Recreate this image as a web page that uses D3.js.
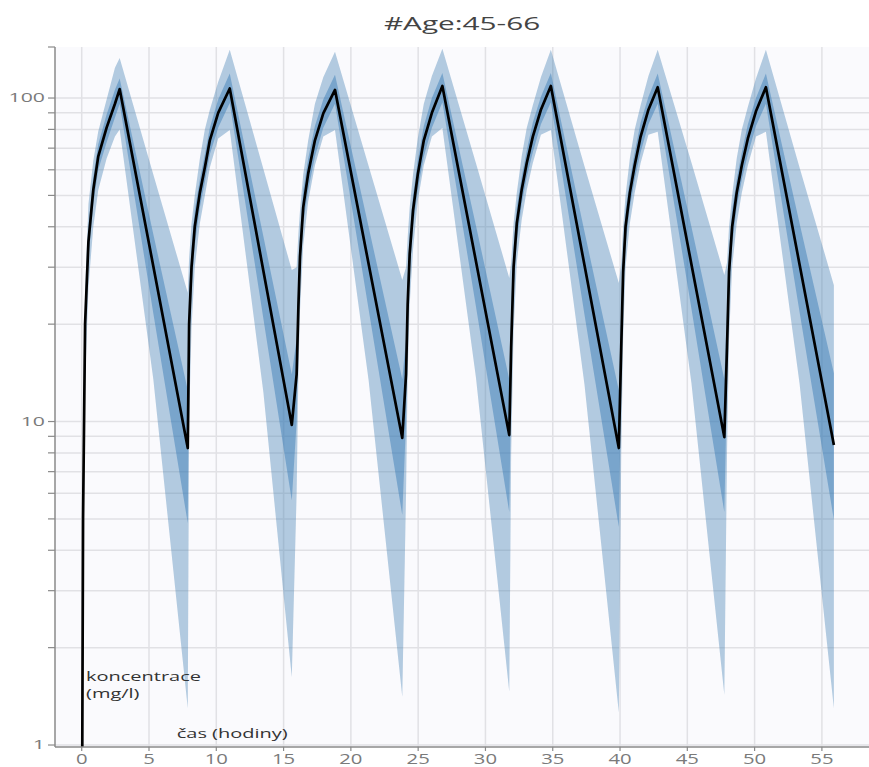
<!DOCTYPE html>
<html>
<head>
<meta charset="utf-8">
<script src="https://cdn.jsdelivr.net/npm/d3@7"></script>
<style>
  body { margin: 0; background: #fff; }
  text { font-family: "Open Sans", sans-serif; }
</style>
</head>
<body>
<svg id="chart" width="869" height="767"></svg>
<script>
// time (h) of each simulated point, 7 doses
const times = [
  0, 0.1, 0.25, 0.5, 0.86, 1.23, 1.85, 2.47, 2.82, 5.32,
  7.88, 7.98, 8.16, 8.4, 8.78, 9.15, 9.52, 10.14, 11.0, 13.5,
  15.61, 15.97, 16.1, 16.22, 16.46, 16.83, 17.33, 17.95, 18.82, 21.32,
  23.82, 24.1, 24.22, 24.37, 24.62, 24.97, 25.42, 26.02, 26.8, 29.3,
  31.77, 31.91, 32.09, 32.33, 32.69, 33.07, 33.52, 34.12, 34.86, 37.36,
  39.91, 40.09, 40.23, 40.41, 40.73, 41.09, 41.53, 42.11, 42.8, 45.3,
  47.75, 47.95, 48.1, 48.33, 48.67, 49.05, 49.5, 50.1, 50.84, 53.34,
  55.89
];
const median = [
  0.3, 5, 20, 36, 52, 66, 81, 96, 106.6, 30.2,
  8.28, 20, 30, 40, 51, 61, 74, 90, 107, 29.2,
  9.76, 14, 22.6, 32.4, 46, 58.5, 74, 89.6, 106, 30.7,
  8.9, 14, 23, 33, 45, 58, 74, 90, 109, 31.2,
  9.08, 17, 30, 41, 52, 63, 76, 92, 109, 30.4,
  8.28, 17, 29, 40, 51, 62, 76, 92, 108, 30.7,
  8.95, 17, 29, 40, 51, 62, 75, 91, 108, 30.6,
  8.46
];
const p95 = [
  0.5, 8, 25, 47, 64, 79, 99, 124, 133, 58,
  25, 32, 41, 50, 65, 80, 92, 112, 141, 60.3,
  29.4, 30, 38, 45, 58, 74, 96, 116, 139, 61.7,
  27.4, 30, 37, 46, 58, 75, 96, 117, 142, 62.8,
  27.8, 31, 41, 51, 66, 81, 95, 116, 141, 61.5,
  26.8, 31, 40, 50, 65, 80, 95, 117, 141, 63.3,
  28.4, 31, 40, 50, 65, 80, 94, 115, 141, 61,
  26.4
];
const p75 = [
  0.35, 6.5, 23, 40, 57, 72, 89, 106, 115, 37.9,
  12.5, 25, 34.5, 45, 56, 67, 81, 99, 119, 37.3,
  14, 18, 27, 38, 52, 65, 82, 99, 118, 39.9,
  13.5, 18, 28, 38, 50, 64, 82, 100, 119.5, 40.2,
  13.5, 22, 34.5, 46, 57, 69, 84, 101, 119.5, 38.6,
  12.5, 22, 33.5, 45, 56, 68, 84, 101, 119, 40.1,
  13.5, 22, 33.5, 45, 56, 68, 83, 100, 119, 41,
  14.1
];
const p25 = [
  0.25, 4, 17, 32, 47, 60, 73, 87, 96, 21.6,
  4.85, 16, 25.5, 35, 46, 55, 67, 81, 96.5, 20.8,
  5.7, 10, 19, 28, 41, 52, 66, 81, 96, 22.2,
  5.14, 10, 19, 29, 40, 52, 66, 81, 97, 22.6,
  5.25, 13, 25.5, 36, 47, 57, 68, 83, 97, 21.4,
  4.72, 13, 24.5, 35, 46, 56, 68, 83, 96, 22.4,
  5.25, 13, 24.5, 35, 46, 56, 67, 82, 96, 21.8,
  4.97
];
const p05 = [
  0.2, 3, 13, 26, 40, 52, 65, 76, 80, 13.5,
  1.3, 10, 19.5, 30, 41, 50, 61, 75, 79.6, 12.3,
  1.62, 6, 14, 22, 35, 48, 62, 76, 79.6, 13.4,
  1.41, 6, 14, 23, 34, 48, 62, 76, 80.8, 13.6,
  1.46, 8, 19, 31, 42, 52, 63, 77, 79.6, 13,
  1.26, 8, 18, 30, 41, 51, 63, 77, 78.7, 13.2,
  1.43, 8, 18, 30, 41, 51, 62, 76, 78.7, 13.1,
  1.3
];

const xTicks = [0, 5, 10, 15, 20, 25, 30, 35, 40, 45, 50, 55];
const yLabels = [1, 10, 100];
const title = "#Age:45-66";
const yTitle = ["koncentrace", "(mg/l)"];
const xTitle = "čas (hodiny)";

const width = 869,
  height = 767;
const plot = { left: 55, right: 869, top: 47, bottom: 747 };

const svg = d3.select("#chart");

const x = d3.scaleLinear().domain([-1.985, 58.5]).range([plot.left, plot.right]);
const y = d3.scaleLog().domain([0.986, 143.8]).range([plot.bottom, plot.top]);

// plot background
svg
  .append("rect")
  .attr("x", plot.left)
  .attr("y", plot.top)
  .attr("width", plot.right - plot.left)
  .attr("height", plot.bottom - plot.top)
  .attr("fill", "#fafafd");

svg
  .append("clipPath")
  .attr("id", "clip")
  .append("rect")
  .attr("x", plot.left)
  .attr("y", plot.top)
  .attr("width", plot.right - plot.left)
  .attr("height", plot.bottom - plot.top);

// grid
const grid = svg.append("g").attr("stroke", "#e1e1e5").attr("stroke-width", 1.5);
grid
  .selectAll(".hg")
  .data(y.ticks())
  .join("line")
  .attr("x1", plot.left)
  .attr("x2", plot.right)
  .attr("y1", (d) => y(d))
  .attr("y2", (d) => y(d));
grid
  .selectAll(".vg")
  .data(xTicks)
  .join("line")
  .attr("x1", (d) => x(d))
  .attr("x2", (d) => x(d))
  .attr("y1", plot.top)
  .attr("y2", plot.bottom);

const idx = d3.range(times.length);
const g = svg.append("g").attr("clip-path", "url(#clip)");

const outer = d3
  .area()
  .x((i) => x(times[i]))
  .y0((i) => y(p05[i]))
  .y1((i) => y(p95[i]));
const inner = d3
  .area()
  .x((i) => x(times[i]))
  .y0((i) => y(p25[i]))
  .y1((i) => y(p75[i]));
const line = d3
  .line()
  .x((i) => x(times[i]))
  .y((i) => y(median[i]));

g.append("path").attr("d", outer(idx)).attr("fill", "rgba(70,130,180,0.4)");
g.append("path").attr("d", inner(idx)).attr("fill", "rgba(50,120,180,0.45)");
g.append("path")
  .attr("d", line(idx))
  .attr("fill", "none")
  .attr("stroke", "#000")
  .attr("stroke-width", 2.7)
  .attr("stroke-linejoin", "round");

// axes
const axisColor = "#8a8a8a";
svg
  .append("line")
  .attr("x1", plot.left)
  .attr("x2", plot.left)
  .attr("y1", plot.top)
  .attr("y2", plot.bottom)
  .attr("stroke", axisColor)
  .attr("stroke-width", 1.5);
svg
  .append("line")
  .attr("x1", plot.left)
  .attr("x2", plot.right)
  .attr("y1", plot.bottom)
  .attr("y2", plot.bottom)
  .attr("stroke", axisColor)
  .attr("stroke-width", 1.5);

svg
  .append("g")
  .selectAll("line")
  .data(y.ticks().concat([y.domain()[1]]))
  .join("line")
  .attr("x1", plot.left - 7)
  .attr("x2", plot.left)
  .attr("y1", (d) => y(d))
  .attr("y2", (d) => y(d))
  .attr("stroke", axisColor)
  .attr("stroke-width", 1.2);

svg
  .append("g")
  .selectAll("line")
  .data(xTicks)
  .join("line")
  .attr("x1", (d) => x(d))
  .attr("x2", (d) => x(d))
  .attr("y1", plot.bottom)
  .attr("y2", plot.bottom + 4)
  .attr("stroke", axisColor)
  .attr("stroke-width", 1.2);

svg
  .append("g")
  .selectAll("text")
  .data(yLabels)
  .join("text")
  .attr("transform", (d) => `translate(45,${y(d) + 4.3}) scale(1.7,1)`)
  .attr("text-anchor", "end")
  .attr("font-size", 12.5)
  .attr("fill", "#7a7a7a")
  .text((d) => d);

svg
  .append("g")
  .selectAll("text")
  .data(xTicks)
  .join("text")
  .attr("transform", (d) => `translate(${x(d)},764) scale(1.45,1)`)
  .attr("text-anchor", "middle")
  .attr("font-size", 14)
  .attr("fill", "#7a7a7a")
  .text((d) => d);

svg
  .append("text")
  .attr("transform", "translate(462,30) scale(1.6,1)")
  .attr("text-anchor", "middle")
  .attr("font-size", 18.6)
  .attr("fill", "#444")
  .text(title);

// y axis title, two lines
svg
  .append("g")
  .selectAll("text")
  .data(yTitle)
  .join("text")
  .attr("transform", (d, i) => `translate(86,${681 + i * 17.2}) scale(1.6,1)`)
  .attr("font-size", 12.5)
  .attr("fill", "#333")
  .text((d) => d);

svg
  .append("text")
  .attr("transform", "translate(176.7,738.3) scale(1.54,1)")
  .attr("font-size", 13)
  .attr("fill", "#333")
  .text(xTitle);
</script>
</body>
</html>
